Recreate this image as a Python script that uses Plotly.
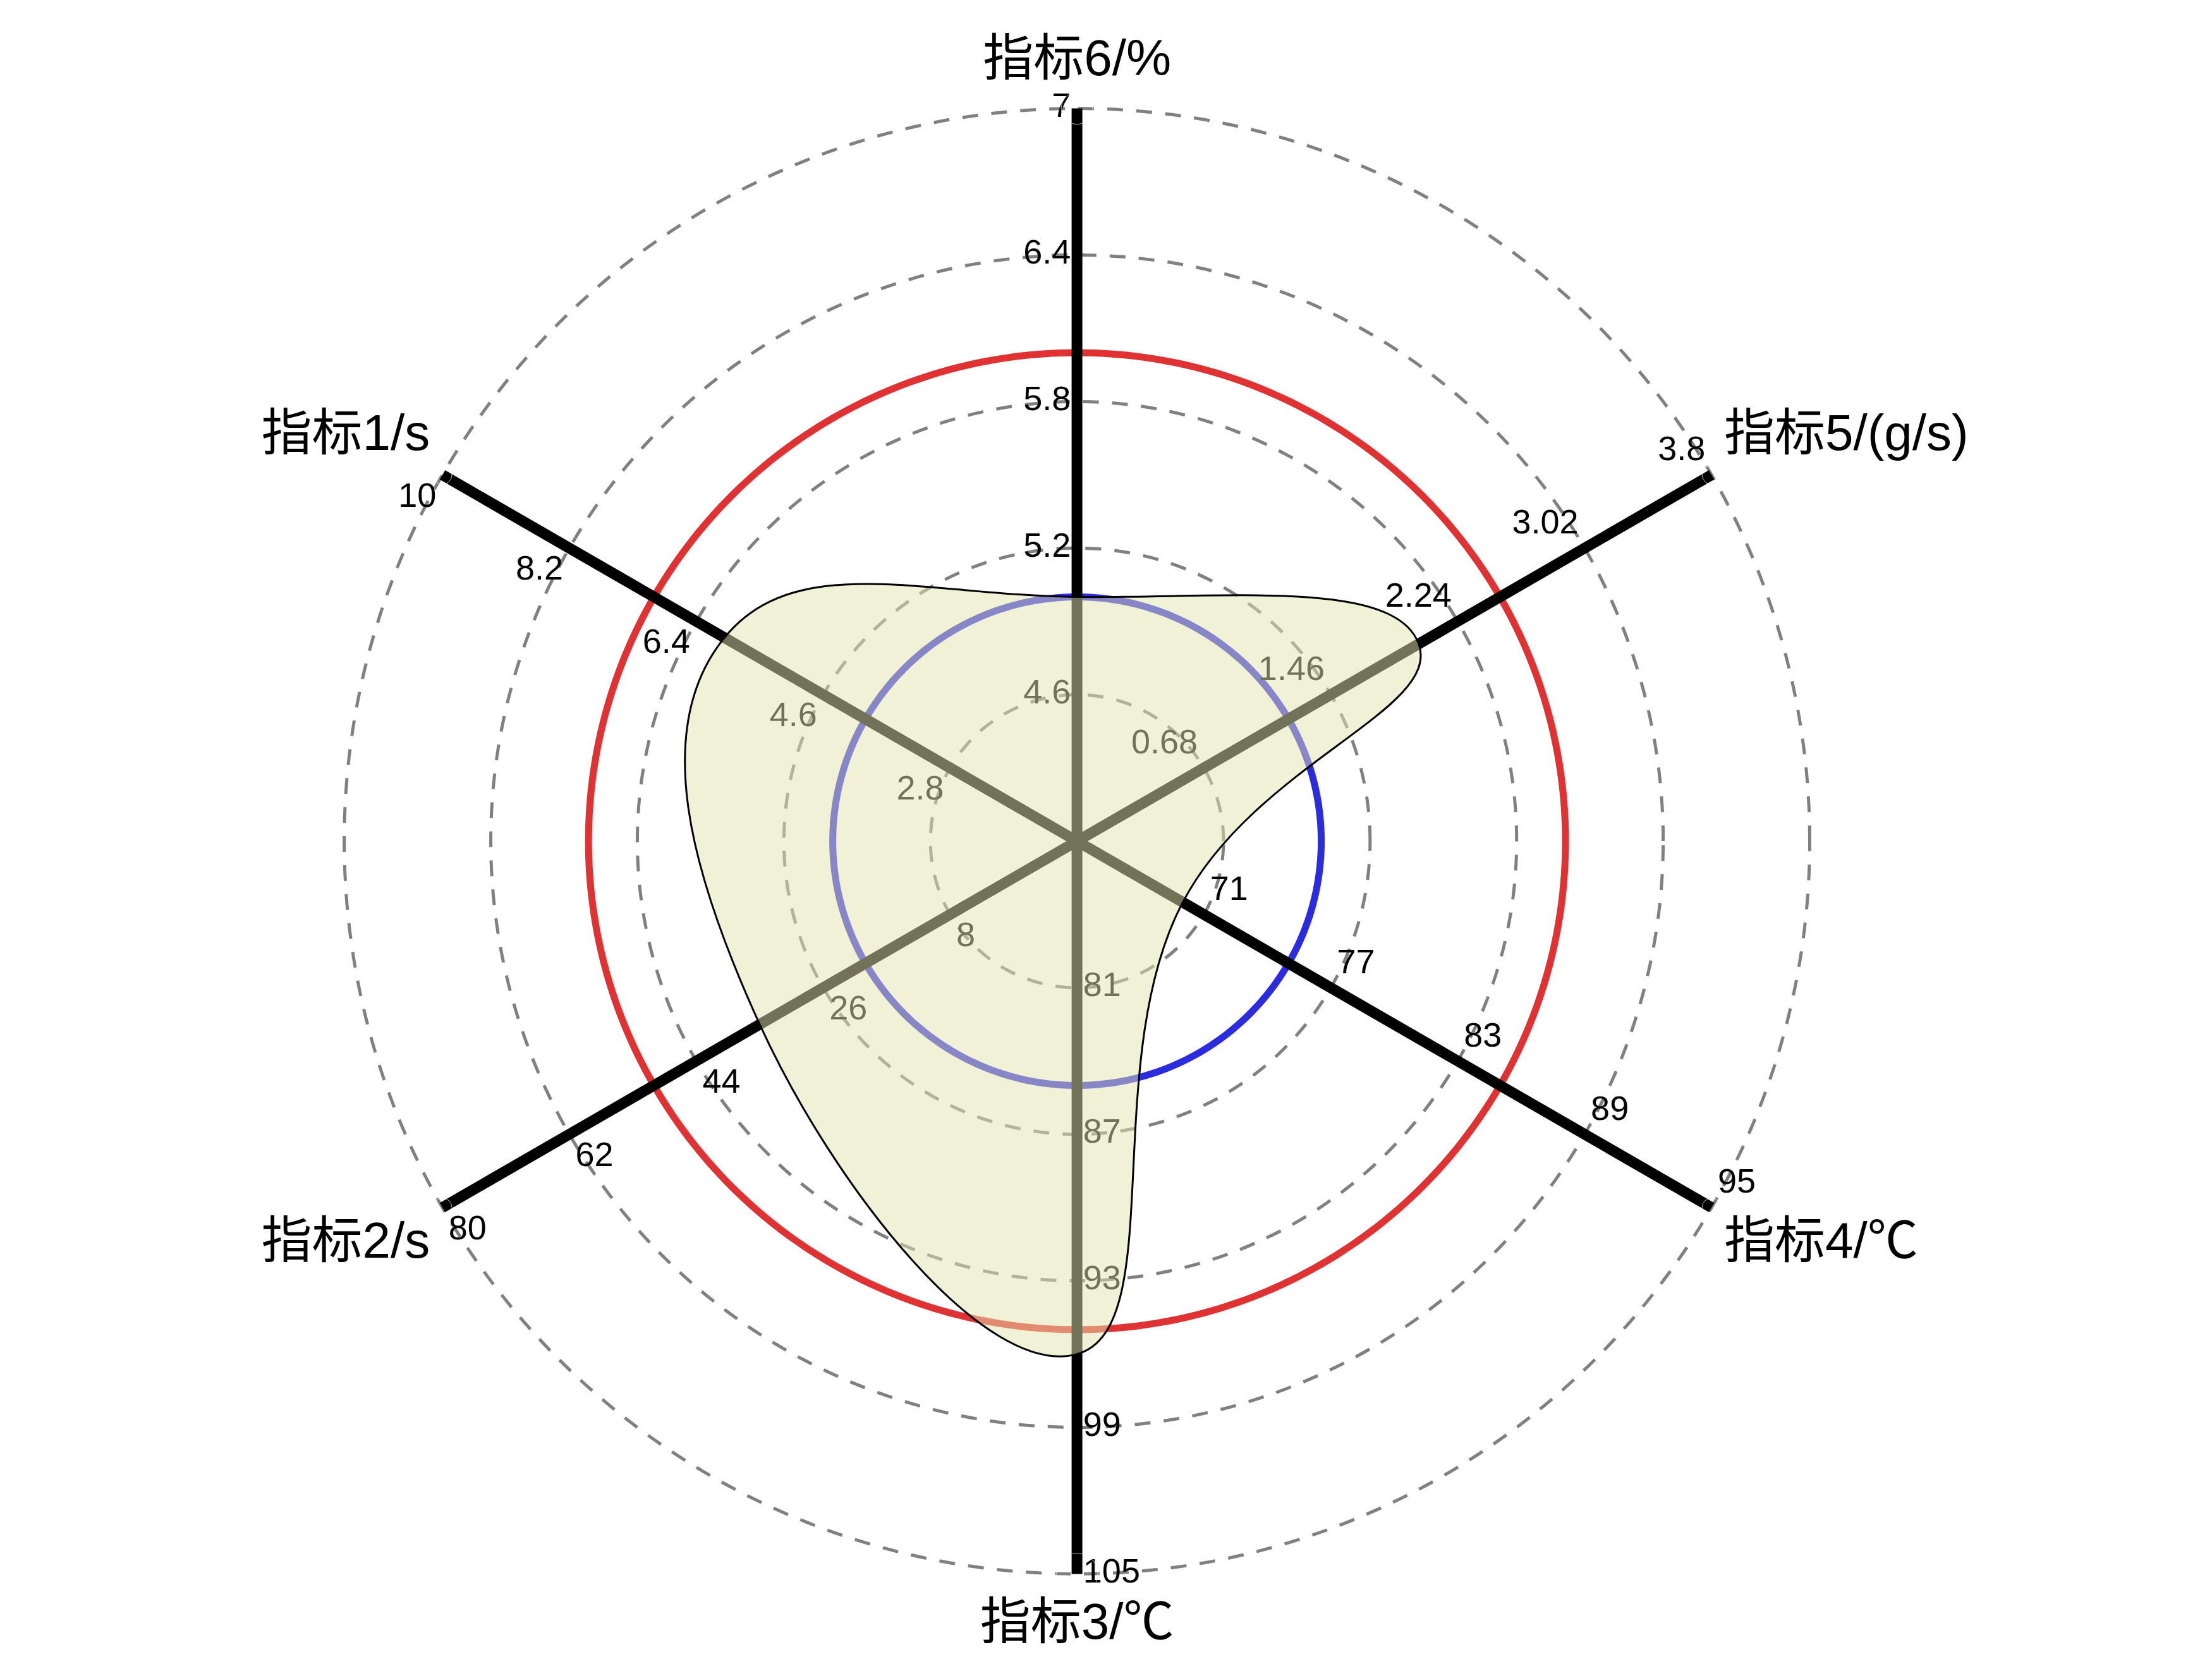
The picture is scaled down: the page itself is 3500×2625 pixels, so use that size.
import numpy as np
import plotly.graph_objects as go

# indicator names, one per spoke (counter-clockwise from upper left)
labels = ["指标1/s", "指标2/s", "指标3/℃", "指标4/℃", "指标5/(g/s)", "指标6/%"]
values = [6.0, 35, 96, 70, 2.0, 5.0]

# value at the centre of each spoke and the tick values along it
axis_lo = [1.0, -10, 75, 65, -0.1, 4.0]
ticks_1 = [2.8, 4.6, 6.4, 8.2, 10]
ticks_2 = [8, 26, 44, 62, 80]
ticks_3 = [81, 87, 93, 99, 105]
ticks_4 = [71, 77, 83, 89, 95]
ticks_5 = [0.68, 1.46, 2.24, 3.02, 3.8]
ticks_6 = [4.6, 5.2, 5.8, 6.4, 7]
axis_ticks = [ticks_1, ticks_2, ticks_3, ticks_4, ticks_5, ticks_6]

# reference rings, as a fraction of the spoke length
ring_blue = 1 / 3
ring_red = 2 / 3

# spoke directions (degrees, counter-clockwise from east)
axis_theta = [150, 210, 270, 330, 30, 90]
tick_pos = ["bottom left", "bottom right", "middle right", "top right", "top left", "middle left"]
label_pos = ["top left", "bottom left", "bottom center", "bottom right", "top right", "top center"]
label_pad = [30, 30, 66, 30, 30, 50]

FONT = "Liberation Sans, Arial, Noto Sans CJK SC, sans-serif"


def norm(v, lo, ticks):
    return (v - lo) / (ticks[-1] - lo)


fig = go.Figure()

# blue and red rings
ring_theta = np.arange(0, 361, 1)
for level, color in [(ring_blue, "#2b2be0"), (ring_red, "#e03232")]:
    fig.add_trace(
        go.Scatterpolar(
            r=np.full(ring_theta.size, level),
            theta=ring_theta,
            mode="lines",
            line=dict(color=color, width=11),
            hoverinfo="skip",
        )
    )

# black spokes
for th in axis_theta:
    fig.add_trace(
        go.Scatterpolar(
            r=[0, 1],
            theta=[th, th],
            mode="lines",
            line=dict(color="black", width=17),
            hoverinfo="skip",
        )
    )

# tick labels along each spoke
for i, th in enumerate(axis_theta):
    t = axis_ticks[i]
    fig.add_trace(
        go.Scatterpolar(
            r=[norm(v, axis_lo[i], t) for v in t],
            theta=[th] * len(t),
            mode="markers+text",
            text=[f"{v:g}" for v in t],
            textposition=tick_pos[i],
            textfont=dict(family=FONT, size=54, color="black"),
            marker=dict(size=14, color="rgba(0,0,0,0)"),
            cliponaxis=False,
            hoverinfo="skip",
        )
    )

# indicator names at the spoke ends
fig.add_trace(
    go.Scatterpolar(
        r=[1] * len(labels),
        theta=axis_theta,
        mode="markers+text",
        text=labels,
        textposition=label_pos,
        textfont=dict(family=FONT, size=80, color="black"),
        marker=dict(size=label_pad, color="rgba(0,0,0,0)"),
        cliponaxis=False,
        hoverinfo="skip",
    )
)

# filled data shape, started at spoke 4 so the seam sits on the sharp dip
order = [3, 4, 5, 0, 1, 2, 3]
r_data = [norm(values[i], axis_lo[i], axis_ticks[i]) for i in order]
fig.add_trace(
    go.Scatterpolar(
        r=r_data,
        theta=[axis_theta[i] for i in order],
        mode="lines",
        fill="toself",
        fillcolor="rgba(228,228,176,0.5)",
        line=dict(color="black", width=3, shape="spline", smoothing=1.3),
        hoverinfo="skip",
    )
)

fig.update_layout(
    width=3500,
    height=2625,
    margin=dict(l=0, r=0, t=0, b=0),
    paper_bgcolor="white",
    showlegend=False,
    polar=dict(
        domain=dict(x=[0.1523, 0.8169], y=[0.053, 0.939]),
        bgcolor="white",
        radialaxis=dict(
            range=[0, 1.003],
            tickvals=[0.2, 0.4, 0.6, 0.8, 1.0],
            showticklabels=False,
            ticks="",
            showline=False,
            gridcolor="#808080",
            gridwidth=4.5,
            griddash="25px,21px",
        ),
        angularaxis=dict(
            rotation=0,
            direction="counterclockwise",
            showgrid=False,
            showline=False,
            showticklabels=False,
            ticks="",
        ),
    ),
)

fig.write_html("out.html")
